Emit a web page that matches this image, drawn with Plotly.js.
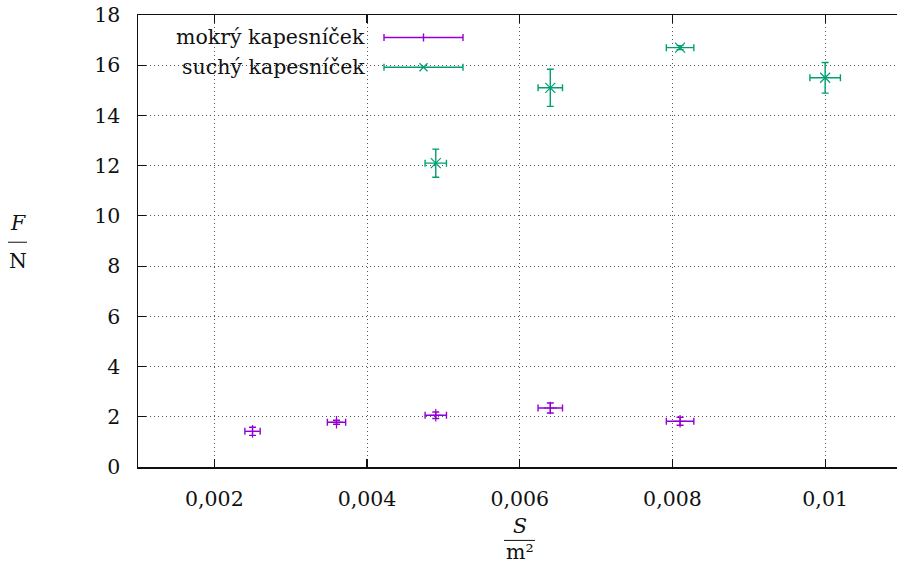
<!DOCTYPE html>
<html>
<head>
<meta charset="utf-8">
<script src="https://cdn.plot.ly/plotly-3.0.1.min.js"></script>
<style>html,body{margin:0;padding:0;background:#fff;}#chart{width:897px;height:566px;}</style>
</head>
<body>
<div id="chart"></div>
<script>
// ---- data ----
const seriesNames = ["mokrý kapesníček", "suchý kapesníček"];
const S_wet  = [0.0025, 0.0036, 0.0049, 0.0064, 0.0081];
const F_wet  = [1.42, 1.78, 2.06, 2.35, 1.82];
const dS_wet = [0.0001, 0.00012, 0.00014, 0.00016, 0.00018];
const dF_wet = [0.16, 0.08, 0.13, 0.20, 0.16];
const S_dry  = [0.0049, 0.0064, 0.0081, 0.0100];
const F_dry  = [12.1, 15.1, 16.7, 15.5];
const dS_dry = [0.00014, 0.00016, 0.00018, 0.0002];
const dF_dry = [0.56, 0.74, 0.08, 0.61];
const xTickVals = [0.002, 0.004, 0.006, 0.008, 0.01];
const xTickText = ["0,002", "0,004", "0,006", "0,008", "0,01"];
const yTickVals = [0, 2, 4, 6, 8, 10, 12, 14, 16, 18];
const yTickText = ["0", "2", "4", "6", "8", "10", "12", "14", "16", "18"];

// ---- styles ----
const purple = "#9400d3", green = "#009e73";
const FONT = "DejaVu Serif, serif";
const FS = 20.5;
const W = 897, H = 566;
const L = 138, R = 0, T = 15, B = 98.5;
const pw = W - L - R, ph = H - T - B;
const px = p => (p - L) / pw;       // pixel -> paper x
const py = p => (H - B - p) / ph;   // pixel -> paper y

function errTrace(x, y, dx, dy, color, symbol, size) {
  return {
    type: "scatter", mode: "markers", x: x, y: y, showlegend: false,
    marker: {symbol: symbol, size: size, color: color, line: {color: color, width: 1.2}},
    error_x: {type: "data", array: dx, visible: true, color: color, thickness: 1.4, width: 3.5},
    error_y: {type: "data", array: dy, visible: true, color: color, thickness: 1.4, width: 3.5},
    cliponaxis: false
  };
}
const traces = [
  errTrace(S_wet, F_wet, dS_wet, dF_wet, purple, "cross-thin-open", 9),
  errTrace(S_dry, F_dry, dS_dry, dF_dry, green, "x-thin-open", 10)
];

// ---- legend (gnuplot style: text right, sample to the right) ----
const shapes = [];
const annotations = [];
shapes.push({type: "rect", xref: "paper", yref: "paper", x0: px(157), x1: px(478), y0: py(81), y1: py(15.5),
  fillcolor: "#fff", line: {width: 0}, layer: "between"});
const legY = [37.5, 67.3];
const legColors = [purple, green];
for (let i = 0; i < 2; i++) {
  const yy = legY[i], c = legColors[i];
  annotations.push({xref: "paper", yref: "paper", x: px(367), y: py(yy), xanchor: "right", yanchor: "middle",
    text: seriesNames[i], showarrow: false, font: {family: FONT, size: FS, color: "#111"}});
  shapes.push({type: "line", xref: "paper", yref: "paper", x0: px(384), x1: px(463), y0: py(yy), y1: py(yy), line: {color: c, width: 1.4}});
  shapes.push({type: "line", xref: "paper", yref: "paper", x0: px(384), x1: px(384), y0: py(yy - 3.5), y1: py(yy + 3.5), line: {color: c, width: 1.4}});
  shapes.push({type: "line", xref: "paper", yref: "paper", x0: px(463), x1: px(463), y0: py(yy - 3.5), y1: py(yy + 3.5), line: {color: c, width: 1.4}});
  if (i === 0) {
    shapes.push({type: "line", xref: "paper", yref: "paper", x0: px(423.5), x1: px(423.5), y0: py(yy - 4), y1: py(yy + 4), line: {color: c, width: 1.4}});
  } else {
    shapes.push({type: "line", xref: "paper", yref: "paper", x0: px(419.5), x1: px(427.5), y0: py(yy - 4), y1: py(yy + 4), line: {color: c, width: 1.3}});
    shapes.push({type: "line", xref: "paper", yref: "paper", x0: px(419.5), x1: px(427.5), y0: py(yy + 4), y1: py(yy - 4), line: {color: c, width: 1.3}});
  }
}

// ---- axis titles as fractions ----
annotations.push({xref: "paper", yref: "paper", x: px(17.5), y: py(223), text: "<i>F</i>", showarrow: false,
  xanchor: "center", yanchor: "middle", font: {family: FONT, size: FS, color: "#111"}});
annotations.push({xref: "paper", yref: "paper", x: px(17.5), y: py(261), text: "N", showarrow: false,
  xanchor: "center", yanchor: "middle", font: {family: FONT, size: FS, color: "#111"}});
shapes.push({type: "line", xref: "paper", yref: "paper", x0: px(8), x1: px(27), y0: py(242.5), y1: py(242.5), line: {color: "#111", width: 1}});
annotations.push({xref: "paper", yref: "paper", x: px(519.5), y: py(527), text: "<i>S</i>", showarrow: false,
  xanchor: "center", yanchor: "middle", font: {family: FONT, size: FS, color: "#111"}});
annotations.push({xref: "paper", yref: "paper", x: px(519.5), y: py(553), text: "m²", showarrow: false,
  xanchor: "center", yanchor: "middle", font: {family: FONT, size: FS, color: "#111"}});
shapes.push({type: "line", xref: "paper", yref: "paper", x0: px(504), x1: px(535), y0: py(541), y1: py(541), line: {color: "#111", width: 1}});

const layout = {
  width: W, height: H,
  margin: {l: L, r: R, t: T, b: B, pad: 0},
  paper_bgcolor: "#fff", plot_bgcolor: "#fff",
  showlegend: false,
  font: {family: FONT, size: FS, color: "#111"},
  xaxis: {
    range: [0.001, 0.001 + pw / 76.35 * 0.001],
    tickvals: xTickVals, ticktext: xTickText,
    ticks: "inside", ticklen: 8, tickwidth: 1.2, tickcolor: "#111",
    showline: true, linecolor: "#111", linewidth: 1.5, mirror: "ticks",
    showgrid: true, gridcolor: "#555", griddash: "1px,3px", gridwidth: 1,
    zeroline: false, ticklabelstandoff: 13,
    tickfont: {family: FONT, size: FS, color: "#111"}
  },
  yaxis: {
    range: [0, 18],
    tickvals: yTickVals, ticktext: yTickText,
    ticks: "inside", ticklen: 8, tickwidth: 1.2, tickcolor: "#111",
    showline: true, linecolor: "#111", linewidth: 1.5, mirror: false,
    showgrid: true, gridcolor: "#555", griddash: "1px,3px", gridwidth: 1,
    zeroline: false, ticklabelstandoff: 12,
    tickfont: {family: FONT, size: FS, color: "#111"}
  },
  shapes: shapes,
  annotations: annotations
};

Plotly.newPlot("chart", traces, layout, {staticPlot: true, displayModeBar: false});
</script>
</body>
</html>
